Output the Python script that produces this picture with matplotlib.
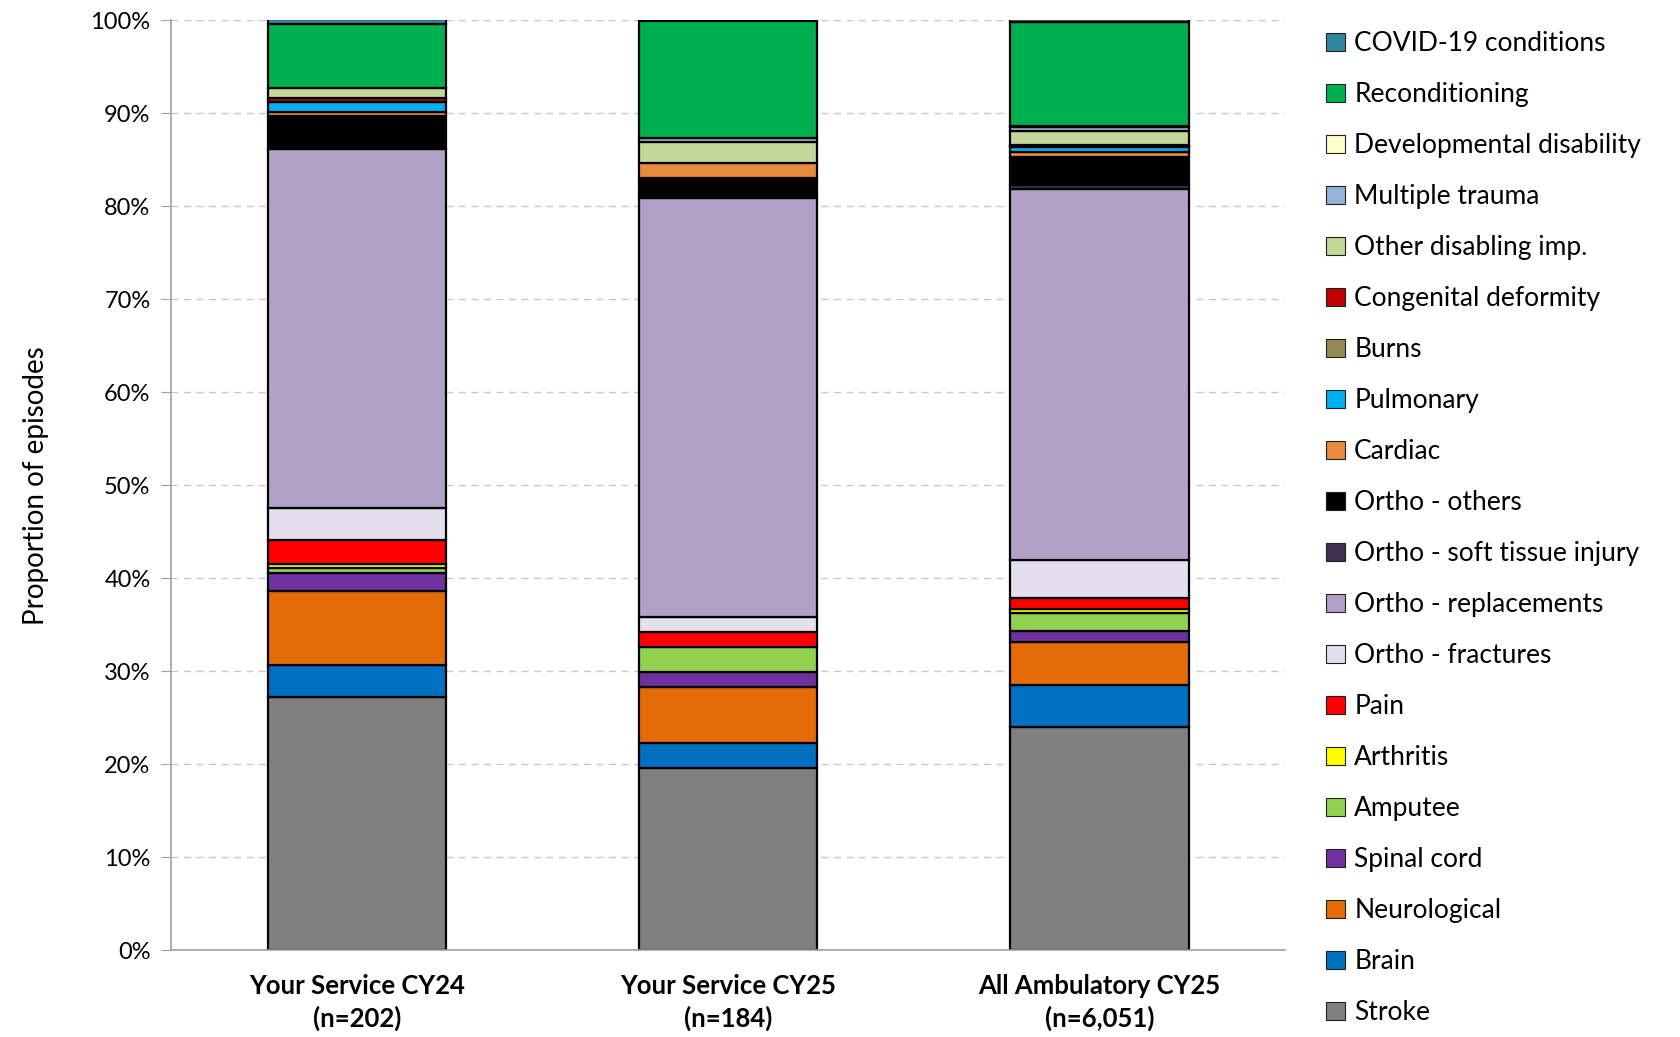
import numpy as np
import matplotlib.pyplot as plt
from matplotlib.patches import Patch
from matplotlib.ticker import FuncFormatter, MultipleLocator

GROUPS = [
    "Your Service CY24\n(n=202)",
    "Your Service CY25\n(n=184)",
    "All Ambulatory CY25\n(n=6,051)",
]

# stacking order, bottom to top
CATEGORIES = [
    "Stroke", "Brain", "Neurological", "Spinal cord", "Amputee", "Arthritis",
    "Pain", "Ortho - fractures", "Ortho - replacements",
    "Ortho - soft tissue injury", "Ortho - others", "Cardiac", "Pulmonary",
    "Burns", "Congenital deformity", "Other disabling imp.", "Multiple trauma",
    "Developmental disability", "Reconditioning", "COVID-19 conditions",
]

COLORS = [
    "#808080", "#0070C0", "#E36C09", "#7030A0", "#92D050", "#FFFF00",
    "#FF0000", "#E4DFEC", "#B1A0C7", "#403151", "#000000", "#E88B3F",
    "#00B0F0", "#948A54", "#C00000", "#C4D79B", "#95B3D7",
    "#FFFFCC", "#00B050", "#31859C",
]

# proportion of episodes (%), same order as CATEGORIES
SERVICE_CY24 = [27.2, 3.5, 7.9, 2.0, 0.5, 0.5, 2.5, 3.5, 38.6, 0.0,
                3.5, 0.5, 1.0, 0.0, 0.5, 1.0, 0.0, 0.0, 6.9, 0.5]
SERVICE_CY25 = [19.6, 2.7, 6.0, 1.6, 2.7, 0.0, 1.6, 1.6, 45.1, 0.0,
                2.2, 1.6, 0.0, 0.0, 0.0, 2.2, 0.5, 0.0, 12.5, 0.0]
AMBULATORY_CY25 = [24.0, 4.5, 4.7, 1.1, 2.0, 0.4, 1.2, 4.1, 39.9, 0.4,
                   3.0, 0.6, 0.5, 0.1, 0.1, 1.5, 0.4, 0.1, 11.2, 0.3]

FONT = ["Lato", "DejaVu Sans"]


def main():
    plt.rcParams["font.family"] = FONT
    data = np.array([SERVICE_CY24, SERVICE_CY25, AMBULATORY_CY25]).T  # cats x groups
    x = np.arange(len(GROUPS))

    fig = plt.figure(figsize=(16.8, 10.37), dpi=100)
    ax = fig.add_axes([0.102, 0.0835, 0.663, 0.8968])
    ax.set_axisbelow(True)

    bottom = np.zeros(len(GROUPS))
    for cat, color, vals in zip(CATEGORIES, COLORS, data):
        lw = np.where(vals > 0, 1.6, 0.0)
        ax.bar(x, vals, bottom=bottom, width=0.48, color=color,
               edgecolor="black", linewidth=lw, label=cat, zorder=2)
        bottom += vals

    ax.set_xlim(-0.5, len(GROUPS) - 0.5)
    ax.set_ylim(0, 100)
    ax.yaxis.set_major_locator(MultipleLocator(10))
    ax.yaxis.set_major_formatter(FuncFormatter(lambda v, _p: f"{int(v)}%"))
    ax.grid(axis="y", color="#C8C8C8", linestyle=(0, (5, 4)), linewidth=1.0)

    ax.set_xticks(x)
    ax.set_xticklabels(GROUPS, fontsize=18.5, fontweight="bold", linespacing=1.35)
    ax.tick_params(axis="x", length=0, pad=17)
    ax.tick_params(axis="y", labelsize=17, length=7, color="#A0A0A0", pad=8)

    for side in ("top", "right"):
        ax.spines[side].set_visible(False)
    for side in ("left", "bottom"):
        ax.spines[side].set_color("#A0A0A0")
        ax.spines[side].set_linewidth(1.2)

    ax.set_ylabel("Proportion of episodes", fontsize=20, labelpad=30)

    handles = [Patch(facecolor=c, edgecolor="#202020", linewidth=0.8) for c in COLORS]
    fig.legend(handles[::-1], CATEGORIES[::-1], loc="upper left",
               bbox_to_anchor=(0.783, 0.980), frameon=False, fontsize=19,
               handlelength=0.72, handleheight=0.72, handletextpad=0.35,
               labelspacing=0.985, borderaxespad=0)

    fig.savefig("out.png", dpi=100, facecolor="white")


if __name__ == "__main__":
    main()
